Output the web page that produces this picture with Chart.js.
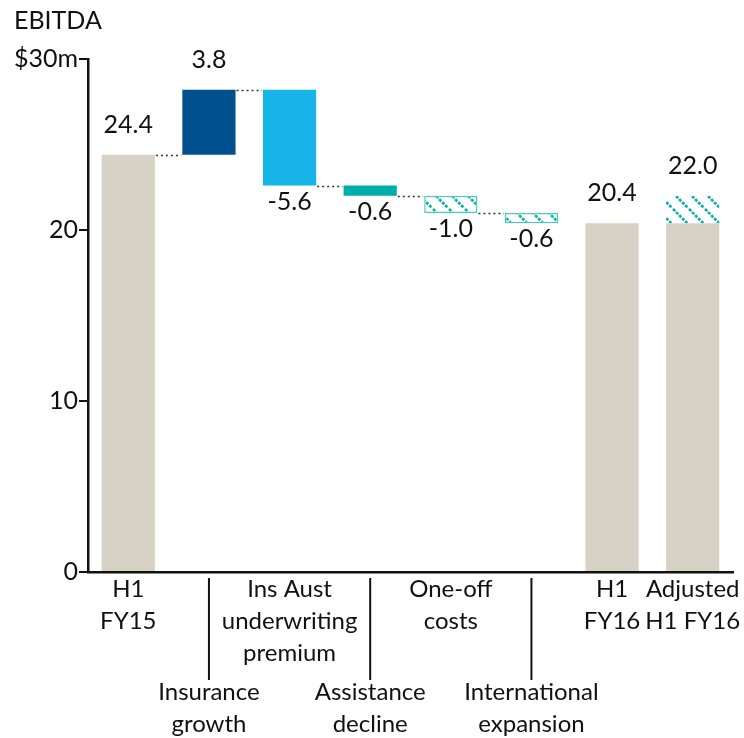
<!DOCTYPE html>
<html>
<head>
<meta charset="utf-8">
<script src="https://cdn.jsdelivr.net/npm/chart.js@4.4.1/dist/chart.umd.min.js"></script>
<style>
  html, body { margin: 0; padding: 0; background: #fff; }
  #wrap { width: 744px; height: 738px; position: relative; }
</style>
</head>
<body>
<div id="wrap"><canvas id="c" width="744" height="738"></canvas></div>
<script>
// EBITDA bridge, H1 FY15 to H1 FY16 ($m)
const categories = [
  ['H1', 'FY15'],
  ['Insurance', 'growth'],
  ['Ins Aust', 'underwriting', 'premium'],
  ['Assistance', 'decline'],
  ['One-off', 'costs'],
  ['International', 'expansion'],
  ['H1', 'FY16'],
  ['Adjusted', 'H1 FY16']
];
const startValue = 24.4;
const changes = [3.8, -5.6, -0.6, -1.0, -0.6];
const endValue = 20.4;
const adjustedValue = 22.0;
const yTicks = [0, 10, 20, 30];
const yTickLabels = ['0', '10', '20', '$30m'];
// which movements are one-off items (hatched)
const hatchedSteps = [false, false, false, true, true];

const BEIGE = '#D8D1C5';
const DARK_BLUE = '#00508F';
const LIGHT_BLUE = '#16B4E9';
const TEAL = '#00AEA9';
const HATCH_LINE = '#00B0AA';
const HATCH_BORDER = '#4EC8C2';
const FONT = 'Lato, "Open Sans", sans-serif';
const FONT_SIZE = 25;
const CAT_FONT_SIZE = 24;

function hatchPattern() {
  const s = 16;
  const cv = document.createElement('canvas');
  cv.width = s; cv.height = s;
  const g = cv.getContext('2d');
  g.fillStyle = '#fff';
  g.fillRect(0, 0, s, s);
  g.strokeStyle = HATCH_LINE;
  g.lineWidth = 2.6;
  g.setLineDash([3, 1.3]);
  g.beginPath();
  g.moveTo(-2, -2); g.lineTo(s + 2, s + 2);
  g.stroke();
  return document.getElementById('c').getContext('2d').createPattern(cv, 'repeat');
}
const hatch = hatchPattern();

// running totals give each floating bar its range
const ranges = [[0, startValue]];
const levels = [startValue];
let level = startValue;
changes.forEach(d => {
  const next = +(level + d).toFixed(1);
  ranges.push([Math.min(level, next), Math.max(level, next)]);
  level = next;
  levels.push(level);
});
ranges.push([0, endValue]);
ranges.push([0, endValue]);

const isHatched = i => i >= 1 && i <= changes.length && hatchedSteps[i - 1];
const fills = [BEIGE, DARK_BLUE, LIGHT_BLUE, TEAL, null, null, BEIGE, BEIGE]
  .map((c, i) => isHatched(i) ? hatch : c);
const borders = ranges.map((r, i) => isHatched(i) ? 1.5 : 0);
const borderColors = ranges.map(() => HATCH_BORDER);

const adjustment = categories.map((c, i) => i === categories.length - 1 ? [endValue, adjustedValue] : null);

// value labels: [text, above?]
const valueLabels = [
  [startValue.toFixed(1), true],
  ...changes.map(d => [d.toFixed(1), d > 0]),
  [endValue.toFixed(1), true],
  [adjustedValue.toFixed(1), true]
];

const decor = {
  id: 'decor',
  afterDatasetsDraw(chart) {
    const ctx = chart.ctx;
    const x = chart.scales.x, y = chart.scales.y;
    const meta = chart.getDatasetMeta(0);
    ctx.save();

    // dotted connectors between consecutive movement bars
    ctx.strokeStyle = '#333';
    ctx.lineWidth = 1.5;
    ctx.setLineDash([2, 3]);
    for (let i = 0; i <= changes.length - 1; i++) {
      const a = meta.data[i], b = meta.data[i + 1];
      const yy = Math.round(y.getPixelForValue(levels[i])) + 0.5;
      ctx.beginPath();
      ctx.moveTo(a.x + a.width / 2 + 1, yy);
      ctx.lineTo(b.x - b.width / 2 - 1, yy);
      ctx.stroke();
    }
    ctx.setLineDash([]);

    // value labels
    ctx.fillStyle = '#111';
    ctx.font = FONT_SIZE + 'px ' + FONT;
    ctx.textAlign = 'center';
    ctx.textBaseline = 'middle';
    valueLabels.forEach(([t, above], i) => {
      const r = i === categories.length - 1 ? [0, adjustedValue] : ranges[i];
      const cx = meta.data[i].x;
      if (above) ctx.fillText(t, cx, y.getPixelForValue(r[1]) - 30);
      else ctx.fillText(t, cx, y.getPixelForValue(r[0]) + 16);
    });

    // axis title
    ctx.textAlign = 'left';
    ctx.fillText('EBITDA', 14, 21);

    // category labels, alternating rows with separator lines
    ctx.textAlign = 'center';
    ctx.font = CAT_FONT_SIZE + 'px ' + FONT;
    const base = y.getPixelForValue(0);
    categories.forEach((lines, i) => {
      const cx = x.getPixelForValue(i);
      const lower = i >= 1 && i <= 5 && i % 2 === 1;
      const top = lower ? base + 120 : base + 17;
      lines.forEach((ln, k) => ctx.fillText(ln, cx, top + k * 32));
      if (lower) {
        ctx.strokeStyle = '#111';
        ctx.lineWidth = 2;
        ctx.beginPath();
        ctx.moveTo(cx, base + 6);
        ctx.lineTo(cx, base + 108);
        ctx.stroke();
      }
    });
    ctx.restore();
  }
};

new Chart(document.getElementById('c'), {
  type: 'bar',
  data: {
    labels: categories.map(l => l.join(' ')),
    datasets: [
      {
        data: ranges,
        backgroundColor: fills,
        borderColor: borderColors,
        borderWidth: borders,
        borderSkipped: false,
        grouped: false,
        barPercentage: 0.66,
        categoryPercentage: 1
      },
      {
        data: adjustment,
        backgroundColor: hatch,
        borderWidth: 0,
        grouped: false,
        barPercentage: 0.66,
        categoryPercentage: 1
      }
    ]
  },
  options: {
    responsive: false,
    animation: false,
    events: [],
    layout: { padding: { left: 0, top: 59, right: 11, bottom: 166 } },
    plugins: { legend: { display: false }, tooltip: { enabled: false } },
    scales: {
      x: {
        grid: { display: false, drawTicks: false },
        ticks: { display: false },
        border: { color: '#111', width: 2.5 },
        afterFit(s) { s.height = 0; }
      },
      y: {
        min: 0, max: 30,
        afterBuildTicks(s) { s.ticks = yTicks.map(v => ({ value: v })); },
        afterFit(s) { s.width = 88; },
        grid: { drawOnChartArea: false, drawTicks: true, tickLength: 9, color: '#111', lineWidth: 2 },
        border: { color: '#111', width: 2.5 },
        ticks: {
          padding: 1,
          color: '#111',
          font: { family: FONT, size: FONT_SIZE },
          callback: (v) => yTickLabels[yTicks.indexOf(v)]
        }
      }
    }
  },
  plugins: [decor]
});
</script>
</body>
</html>
